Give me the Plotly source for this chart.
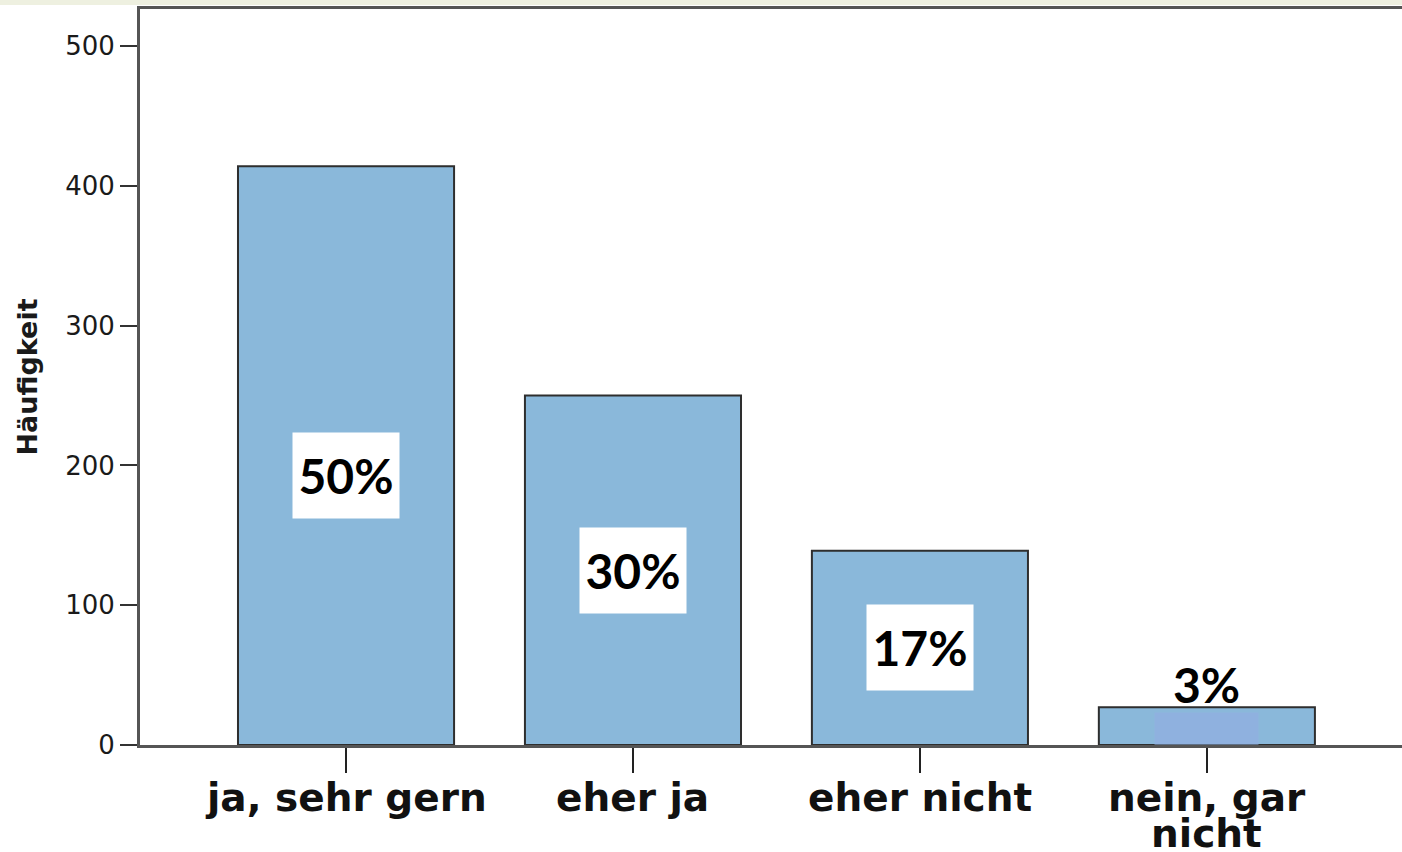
import plotly.graph_objects as go

# ---- data ----
categories = ["ja, sehr gern", "eher ja", "eher nicht", "nein, gar nicht"]
tick_labels = ["ja, sehr gern", "eher ja", "eher nicht", "nein, gar<br>nicht"]
counts = [414, 250, 139, 27]
percent_labels = ["50%", "30%", "17%", "3%"]
y_ticks = [0, 100, 200, 300, 400, 500]

W, H = 1402, 852
ML, MR, MT, MB = 140, 0, 9, 107
plot_h = H - MT - MB
plot_w = W - ML - MR

BAR = "#8ab8da"
EDGE = "#2e2e2e"
AXIS = "#555555"

fig = go.Figure()
fig.add_trace(go.Bar(
    x=categories, y=counts,
    marker=dict(color=BAR, line=dict(color=EDGE, width=2)),
    width=0.753, hoverinfo="skip", showlegend=False,
))

annotations = []
# percentage label boxes
label_shift = {0: -20, 1: 0, 2: 0}
for i, (c, v, p) in enumerate(zip(categories, counts, percent_labels)):
    if i < 3:
        annotations.append(dict(
            x=c, y=v / 2, xref="x", yref="y", text=p, showarrow=False,
            font=dict(family="Lato", size=48, color="black", weight="bold"),
            bgcolor="white", width=106, height=85, borderpad=0,
            yshift=label_shift.get(i, 0), align="center", valign="middle",
        ))
    else:
        # small bar: tinted box inside the bar, text above it
        annotations.append(dict(
            x=c, y=v / 2, xref="x", yref="y", text="", showarrow=False,
            bgcolor="#8fb1df", width=103, height=31, borderpad=0, yshift=-2,
        ))
        annotations.append(dict(
            x=c, y=v, xref="x", yref="y", text=p, showarrow=False,
            font=dict(family="Lato", size=48, color="black", weight="bold"),
            yanchor="bottom", yshift=-8,
        ))

# category labels (multi-line handled with tight line spacing)
for c, t in zip(categories, tick_labels):
    for j, line in enumerate(t.split("<br>")):
        annotations.append(dict(
            x=c, y=0, xref="x", yref="paper", text=line, showarrow=False,
            font=dict(family="DejaVu Sans", size=39, color="#111111", weight="bold"),
            yanchor="top", yshift=-28 - 36 * j,
        ))

shapes = [
    # thin tinted band at very top of the window
    dict(type="rect", xref="paper", yref="paper",
         x0=-ML / plot_w, x1=1, y0=1 + 4 / plot_h, y1=1 + MT / plot_h + 0.01,
         fillcolor="#eef0e0", line=dict(width=0), layer="below"),
]

fig.update_layout(
    width=W, height=H,
    margin=dict(l=ML, r=MR, t=MT, b=MB, pad=0),
    paper_bgcolor="white", plot_bgcolor="white",
    annotations=annotations, shapes=shapes,
    bargap=0.247,
    font=dict(family="DejaVu Sans", color="#222222"),
)
fig.update_xaxes(
    type="category", range=[-0.718, 3.68],
    showgrid=False, zeroline=False,
    showline=True, linecolor=AXIS, linewidth=2.5, mirror=True,
    ticks="outside", ticklen=25, tickwidth=2, tickcolor="#222222",
    showticklabels=False,
)
fig.update_yaxes(
    range=[0, 526.5], tickvals=y_ticks,
    showgrid=False, zeroline=False,
    showline=True, linecolor=AXIS, linewidth=3, mirror=False,
    ticks="outside", ticklen=17, tickwidth=2, tickcolor="#333333",
    tickfont=dict(family="DejaVu Sans", size=26, color="#1a1a1a"),
    title=dict(text="Häufigkeit", standoff=20,
               font=dict(family="DejaVu Sans", size=27, color="#1a1a1a", weight="bold")),
)

fig.write_html(
    "out.html",
    config={"displayModeBar": False},
    post_script="document.body.style.margin='0';document.body.style.overflow='hidden';",
)
